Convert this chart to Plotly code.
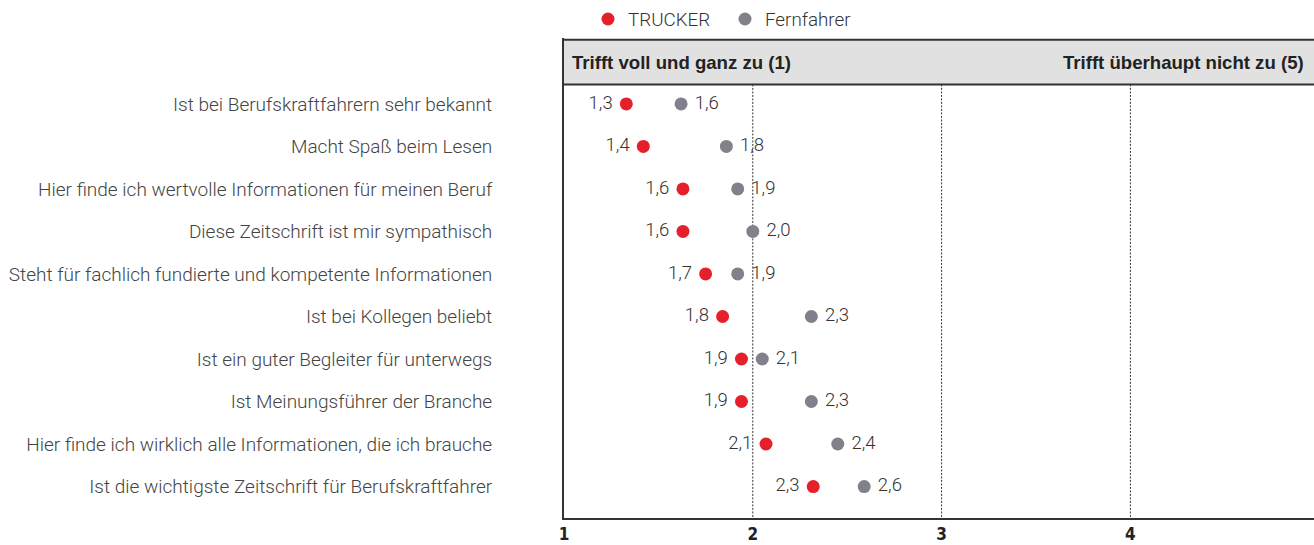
import plotly.graph_objects as go

categories = [
    "Ist bei Berufskraftfahrern sehr bekannt",
    "Macht Spaß beim Lesen",
    "Hier finde ich wertvolle Informationen für meinen Beruf",
    "Diese Zeitschrift ist mir sympathisch",
    "Steht für fachlich fundierte und kompetente Informationen",
    "Ist bei Kollegen beliebt",
    "Ist ein guter Begleiter für unterwegs",
    "Ist Meinungsführer der Branche",
    "Hier finde ich wirklich alle Informationen, die ich brauche",
    "Ist die wichtigste Zeitschrift für Berufskraftfahrer",
]
trucker_values = [1.33, 1.42, 1.63, 1.63, 1.75, 1.84, 1.94, 1.94, 2.07, 2.32]
trucker_labels = ["1,3", "1,4", "1,6", "1,6", "1,7", "1,8", "1,9", "1,9", "2,1", "2,3"]
fernfahrer_values = [1.62, 1.86, 1.92, 2.00, 1.92, 2.31, 2.05, 2.31, 2.45, 2.59]
fernfahrer_labels = ["1,6", "1,8", "1,9", "2,0", "1,9", "2,3", "2,1", "2,3", "2,4", "2,6"]
x_ticks = [1, 2, 3, 4]
header_left = "Trifft voll und ganz zu (1)"
header_right = "Trifft überhaupt nicht zu (5)"

RED = "#e5202a"
GRAY = "#80818a"
TXT = "#333333"
FONT = "Liberation Sans"
LIGHT = "Roboto"
NB = "\u00a0"

fig = go.Figure()
fig.add_trace(go.Scatter(
    x=trucker_values, y=categories, name="TRUCKER", mode="markers+text",
    marker=dict(color=RED, size=13),
    text=[t + NB for t in trucker_labels], textposition="middle left",
    textfont=dict(family=LIGHT, size=18.5, color=TXT, weight=300),
    cliponaxis=False,
))
fig.add_trace(go.Scatter(
    x=fernfahrer_values, y=categories, name="Fernfahrer", mode="markers+text",
    marker=dict(color=GRAY, size=13),
    text=[NB + t for t in fernfahrer_labels], textposition="middle right",
    textfont=dict(family=LIGHT, size=18.5, color=TXT, weight=300),
    cliponaxis=False,
))

y_top = -1.55
y_bottom = 9.74
head_top = -1.51
head_bot = -0.458

shapes = [
    dict(type="rect", xref="x domain", yref="y", x0=0, x1=1, y0=head_top, y1=head_bot,
         fillcolor="#e1e1e1", line=dict(width=0), layer="below"),
    dict(type="line", xref="x domain", yref="y", x0=0, x1=1, y0=head_top, y1=head_top,
         line=dict(color="#333333", width=2)),
    dict(type="line", xref="x domain", yref="y", x0=0, x1=1, y0=head_bot, y1=head_bot,
         line=dict(color="#333333", width=2)),
]
for v in x_ticks[1:]:
    shapes.append(dict(type="line", xref="x", yref="y", x0=v, x1=v, y0=head_bot, y1=y_bottom,
                       line=dict(color="#333333", width=1, dash="2px,1.5px"), layer="below"))

annotations = [
    dict(text=header_left, xref="x domain", yref="y", x=0, y=(head_top + head_bot) / 2,
         xanchor="left", yanchor="middle", xshift=6, showarrow=False,
         font=dict(family=FONT, size=18.6, color="#222222", weight="bold")),
    dict(text=header_right, xref="x domain", yref="y", x=1, y=(head_top + head_bot) / 2,
         xanchor="right", yanchor="middle", xshift=-8, showarrow=False,
         font=dict(family=FONT, size=18.6, color="#222222", weight="bold")),
]

fig.update_layout(
    width=1314, height=545,
    margin=dict(l=564, r=0, t=38, b=27, autoexpand=False),
    paper_bgcolor="white", plot_bgcolor="white",
    shapes=shapes, annotations=annotations,
    showlegend=True,
    legend=dict(orientation="h", x=0.032, xanchor="left", y=1.039, yanchor="middle",
                font=dict(family=LIGHT, size=18.8, color=TXT, weight=300), itemclick=False,
                entrywidth=92, entrywidthmode="pixels",
                bgcolor="rgba(0,0,0,0)"),
    xaxis=dict(range=[1, 1 + 750 / 188.8], tickvals=x_ticks, ticktext=[str(t) for t in x_ticks],
               showgrid=False, zeroline=False, showline=True, linecolor="#333333", linewidth=2,
               ticks="", ticklabelstandoff=0, automargin=False,
               tickfont=dict(family="DejaVu Sans Condensed, Liberation Sans", size=17,
                             color="#222222", weight="bold")),
    yaxis=dict(type="category", categoryorder="array", categoryarray=categories,
               range=[y_bottom, y_top], showgrid=False, zeroline=False,
               showline=True, linecolor="#333333", linewidth=2, ticks="",
               ticklabelstandoff=66, automargin=False,
               tickfont=dict(family=LIGHT, size=19, color="#444444", weight=300)),
)

fig.write_html("out.html", config={"displayModeBar": False},
               post_script="document.body.style.margin='0';")
